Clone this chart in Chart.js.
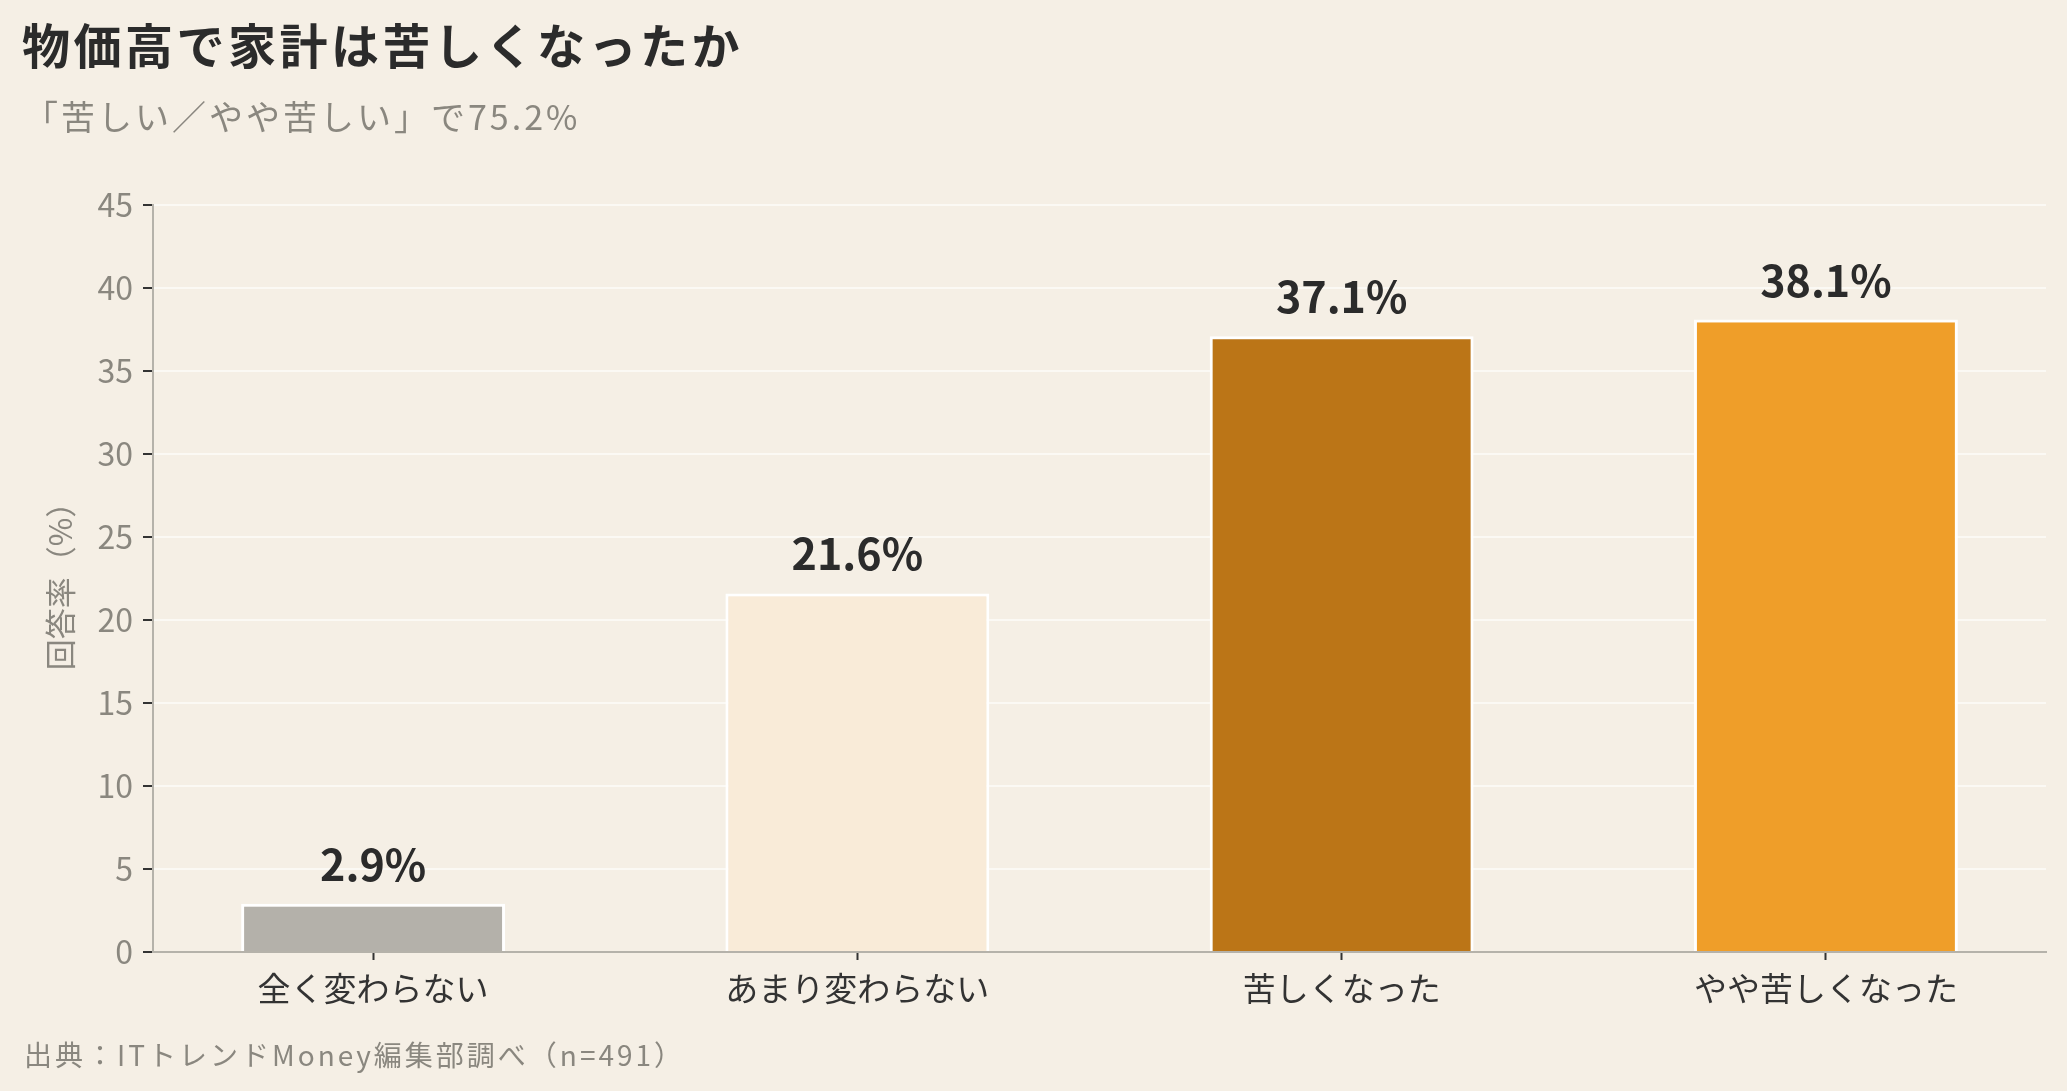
<!DOCTYPE html>
<html lang="ja">
<head>
<meta charset="utf-8">
<title>物価高で家計は苦しくなったか</title>
<script src="https://cdn.jsdelivr.net/npm/chart.js@4.4.1/dist/chart.umd.min.js"></script>
<style>
  body { margin: 0; background: #f5efe5; font-family: "Noto Sans CJK JP", sans-serif; font-kerning: none; }
  #wrap { position: relative; width: 2067px; height: 1091px; }
  #myChart { position: absolute; left: 0; top: 0; }
  #title { position: absolute; left: 22px; top: 19px; font-size: 48px; font-weight: bold; color: #2b2b2b; line-height: 1; letter-spacing: 3.5px; }
  #subtitle { position: absolute; left: 24px; top: 99px; font-size: 34px; color: #8a877f; line-height: 1; letter-spacing: 3px; }
  #source { position: absolute; left: 24px; top: 1040px; font-size: 28px; color: #8a877f; line-height: 1; letter-spacing: 3px; }
</style>
</head>
<body>
<div id="wrap">
  <canvas id="myChart" width="2067" height="1091"></canvas>
  <div id="title">物価高で家計は苦しくなったか</div>
  <div id="subtitle">「苦しい／やや苦しい」で75.2%</div>
  <div id="source">出典：ITトレンドMoney編集部調べ（n=491）</div>
</div>
<script>
// data
const categories = ['全く変わらない', 'あまり変わらない', '苦しくなった', 'やや苦しくなった'];
const values     = [2.9, 21.6, 37.1, 38.1];
const barColors  = ['#b4b1aa', '#f9ebd8', '#bb7517', '#ef9e29'];
const yTicks     = [0, 5, 10, 15, 20, 25, 30, 35, 40, 45];

Chart.defaults.font.family = '"Noto Sans CJK JP", sans-serif';

// percent text above each bar
const valueLabels = {
  id: 'valueLabels',
  afterDatasetsDraw(chart) {
    const ctx = chart.ctx;
    const meta = chart.getDatasetMeta(0);
    ctx.save();
    ctx.font = 'bold 43px "Noto Sans CJK JP"';
    ctx.fillStyle = '#2b2b2b';
    ctx.textAlign = 'center';
    ctx.textBaseline = 'alphabetic';
    meta.data.forEach(function(bar, i){
      ctx.fillText(values[i].toFixed(1) + '%', bar.x, bar.y - 23);
    });
    ctx.restore();
  }
};

let points = [];
for(let i = 0; i < values.length; i += 1){
  points.push({x: i, y: values[i]});
}

const ctx = document.getElementById('myChart').getContext('2d');
const myChart = new Chart(ctx, {
  type: 'bar',
  data: {
    datasets: [{
      data: points,
      backgroundColor: barColors,
      borderColor: '#ffffff',
      borderWidth: 3,
      categoryPercentage: 1,
      barPercentage: 0.545
    }]
  },
  options: {
    responsive: false,
    animation: false,
    layout: { padding: { top: 205, right: 21, bottom: 69, left: 0 } },
    plugins: {
      legend: { display: false },
      tooltip: { enabled: false }
    },
    scales: {
      x: {
        type: 'linear',
        min: -0.4545,
        max: 3.4545,
        offset: false,
        afterBuildTicks: function(scale){
          scale.ticks = categories.map(function(c, i){ return {value: i}; });
        },
        afterFit: function(scale){ scale.height = 70; },
        ticks: {
          callback: function(v){ return categories[v]; },
          color: '#333333',
          font: { size: 33 },
          padding: 9,
          autoSkip: false,
          maxRotation: 0
        },
        grid: { drawOnChartArea: false, offset: false, tickColor: '#333333', tickLength: 8, tickWidth: 2 },
        border: { color: '#b5b2aa', width: 2 }
      },
      y: {
        min: 0,
        max: 45,
        afterBuildTicks: function(scale){
          scale.ticks = yTicks.map(function(v){ return {value: v}; });
        },
        afterFit: function(scale){ scale.width = 153; },
        ticks: { color: '#8a877f', font: { size: 32 }, padding: 10 },
        grid: { color: '#fbf9f4', lineWidth: 2, tickColor: '#333333', tickLength: 10, tickWidth: 2 },
        border: { color: '#b5b2aa', width: 2 },
        title: { display: true, text: '回答率（%）', color: '#8a877f', font: { size: 31 }, padding: { top: 42 } }
      }
    }
  },
  plugins: [valueLabels]
});
</script>
</body>
</html>
